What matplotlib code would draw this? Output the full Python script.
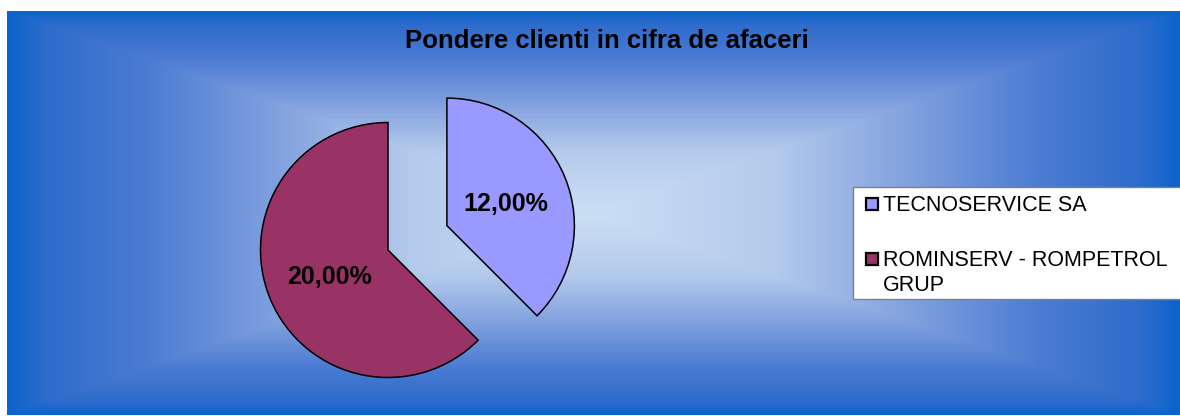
import textwrap
import numpy as np
import matplotlib
matplotlib.use('Agg')
import matplotlib.pyplot as plt
from matplotlib.colors import LinearSegmentedColormap
from matplotlib.patches import Rectangle

plt.rcParams['font.family'] = ['Liberation Sans', 'DejaVu Sans']

# date
title = 'Pondere clienti in cifra de afaceri'
clients = ['TECNOSERVICE SA', 'ROMINSERV - ROMPETROL GRUP']
shares = [12.0, 20.0]          # % din cifra de afaceri
colors = ['#9999FF', '#993366']

W, H = 1180, 416
fig = plt.figure(figsize=(W / 100, H / 100), dpi=100)
ax = fig.add_axes([0, 0, 1, 1])


def py(y):
    # coordonate in pixeli, y de sus in jos -> y in sus
    return H - y


radius = 127.5
wedges, texts, autotexts = ax.pie(
    shares, explode=[0.5 * radius, 0], center=(388, py(250)), radius=radius,
    startangle=90, counterclock=False, colors=colors,
    autopct=lambda p: f'{p * sum(shares) / 100:.2f}%'.replace('.', ','),
    pctdistance=0.5,
    wedgeprops=dict(edgecolor='black', linewidth=1.1),
    textprops=dict(fontsize=18, fontweight='bold', color='black'))
for w in wedges:
    w.set_zorder(2)
for t in autotexts:
    t.set_zorder(3)
    t.set_va('center_baseline')

# fundal cu gradient din centru
x0, x1, y0, y1 = 7, 1180, 11, 415
cx, cy = (x0 + x1) / 2, (y0 + y1) / 2
gx, gy = np.meshgrid(np.arange(x0, x1) + 0.5, np.arange(y0, y1) + 0.5)
t = np.maximum(np.abs(gx - cx) / ((x1 - x0) / 2), np.abs(gy - cy) / ((y1 - y0) / 2))
bg = LinearSegmentedColormap.from_list('bg', [
    (0.0, '#CBDFF4'), (0.31, '#B3CAEC'), (0.51, '#88A6E0'),
    (0.76, '#4C7CD2'), (0.93, '#2F6CCB'), (1.0, '#0A64CC')])
ax.imshow(t, cmap=bg, vmin=0, vmax=1, extent=(x0, x1, py(y1), py(y0)),
          origin='upper', aspect='auto', interpolation='bilinear', zorder=0)

ax.text(607, py(48), title, ha='center', va='baseline',
        fontsize=18.5, fontweight='bold', zorder=3)

# legenda
ax.add_patch(Rectangle((853, py(299)), 400, 112, facecolor='white',
                       edgecolor='#808080', linewidth=1, zorder=3))
baselines = [210.7, 265.7]
line_step = 25
for name, c, yb in zip(clients, colors, baselines):
    ax.add_patch(Rectangle((866, py(yb - 0.5)), 12, 12, facecolor=c,
                           edgecolor='black', linewidth=1.6, zorder=4))
    for j, line in enumerate(textwrap.fill(name, 21).split('\n')):
        ax.text(883, py(yb + j * line_step), line, fontsize=15.5,
                va='baseline', ha='left', zorder=4)

ax.set_xlim(0, W)
ax.set_ylim(0, H)
ax.axis('off')

fig.savefig('out.png', dpi=100, facecolor='white')
